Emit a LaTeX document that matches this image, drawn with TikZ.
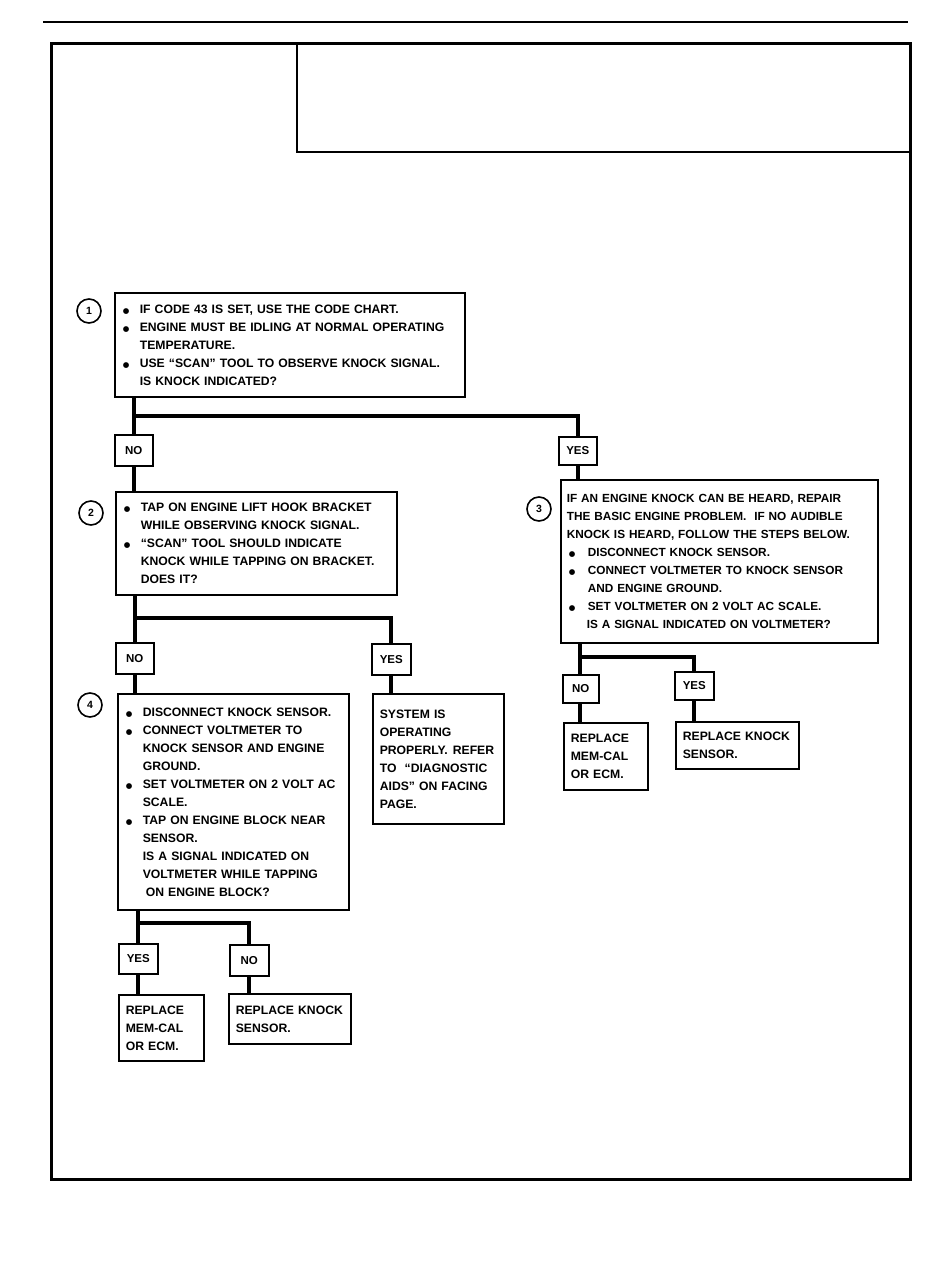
\documentclass[tikz,border=0pt]{standalone}
\usepackage{fontspec}
\setmainfont{Liberation Sans}
\newfontfamily\symf{DejaVu Sans}
\newcommand\dotc{{\symf\fontsize{7.5}{7.5}\selectfont ●}}
\newcommand\bul{\makebox[19pt][l]{\hspace*{2pt}\dotc}}
\newcommand\bulw{\makebox[21pt][l]{\hspace*{2pt}\dotc}}
\newcommand\ind{\hspace*{19pt}}
\tikzset{
  box/.style={draw, line width=1.6pt, anchor=north west, inner xsep=6pt, inner ysep=0pt,
    font=\fontsize{12.2}{18}\selectfont\bfseries, align=left},
  lbl/.style={draw, line width=1.6pt, anchor=north west, inner sep=0pt,
    font=\fontsize{11.5}{14}\selectfont\bfseries},
  trunk/.style={line width=4pt},
  stepnum/.style={circle, draw, line width=1.6pt, minimum size=24pt, inner sep=0pt,
    font=\fontsize{10.5}{12}\selectfont\bfseries},
}
\begin{document}
\begin{tikzpicture}[x=1pt,y=-1pt]
\useasboundingbox (0,0) rectangle (950,1264);
% page frame
\draw[line width=2.3pt] (43,22) -- (908,22);
\draw[line width=3pt] (51,43) rectangle (910,1179);
\draw[line width=1.5pt] (297,43) -- (297,152) -- (910,152);

% step numbers
\node[stepnum] (c1) at (89,311) {1};
\node[stepnum] (c2) at (91,513) {2};
\node[stepnum] (c3) at (539,509) {3};
\node[stepnum] (c4) at (90,705) {4};

% box 1
\node[box, minimum height=104pt, text width=338pt] (b1) at (114,292)
 {\bul IF CODE 43 IS SET, USE THE CODE CHART.\\
  \bul ENGINE MUST BE IDLING AT NORMAL OPERATING\\
  \ind TEMPERATURE.\\
  \bul USE \textquotedblleft SCAN\textquotedblright\ TOOL TO OBSERVE KNOCK SIGNAL.\\
  \ind IS KNOCK INDICATED?};

\node[lbl, minimum width=38pt, minimum height=31pt] (n1) at (114,434) {NO};
\node[lbl, minimum width=38pt, minimum height=28pt] (y1) at (558,436) {YES};

% box 2
\node[box, minimum height=103pt, text width=269pt] (b2) at (115,491)
 {\bul TAP ON ENGINE LIFT HOOK BRACKET\\
  \ind WHILE OBSERVING KNOCK SIGNAL.\\
  \bul \textquotedblleft SCAN\textquotedblright\ TOOL SHOULD INDICATE\\
  \ind KNOCK WHILE TAPPING ON BRACKET.\\
  \ind DOES IT?};

% box 3
\node[box, font=\fontsize{11.8}{18}\selectfont\bfseries, minimum height=163pt, text width=305pt] (b3) at (560,479)
 {IF AN ENGINE KNOCK CAN BE HEARD, REPAIR\\
  THE BASIC ENGINE PROBLEM.\ \ IF NO AUDIBLE\\
  KNOCK IS HEARD, FOLLOW THE STEPS BELOW.\\
  \bulw DISCONNECT KNOCK SENSOR.\\
  \bulw CONNECT VOLTMETER TO KNOCK SENSOR\\
  \hspace*{21pt}AND ENGINE GROUND.\\
  \bulw SET VOLTMETER ON 2 VOLT AC SCALE.\\
  \hspace*{20pt}IS A SIGNAL INDICATED ON VOLTMETER?};

\node[lbl, minimum width=38pt, minimum height=31pt] (n2) at (115,642) {NO};
\node[lbl, minimum width=39pt, minimum height=31pt] (y2) at (371,643) {YES};

\node[lbl, minimum width=36pt, minimum height=28pt] (n3) at (562,674) {NO};
\node[lbl, minimum width=39pt, minimum height=28pt] (y3) at (674,671) {YES};

% box 4
\node[box, minimum height=216pt, text width=219pt] (b4) at (117,693)
 {\bul DISCONNECT KNOCK SENSOR.\\
  \bul CONNECT VOLTMETER TO\\
  \ind KNOCK SENSOR AND ENGINE\\
  \ind GROUND.\\
  \bul SET VOLTMETER ON 2 VOLT AC\\
  \ind SCALE.\\
  \bul TAP ON ENGINE BLOCK NEAR\\
  \ind SENSOR.\\
  \ind IS A SIGNAL INDICATED ON\\
  \ind VOLTMETER WHILE TAPPING\\
  \hspace*{22pt}ON ENGINE BLOCK?};

% system ok
\node[box, inner xsep=7pt, minimum height=130pt, text width=117pt] (s1) at (372,693)
 {SYSTEM IS\\
  OPERATING\\
  \mbox{PROPERLY.\hspace{5pt}REFER}\\
  \mbox{TO \ \textquotedblleft DIAGNOSTIC}\\
  \mbox{AIDS\textquotedblright\ ON FACING}\\
  PAGE.};

% right results
\node[box, inner xsep=7pt, minimum height=67pt, text width=70pt] (r1) at (563,722)
 {REPLACE\\ MEM-CAL\\ OR ECM.};
\node[box, inner xsep=7pt, minimum height=47pt, text width=109pt] (r2) at (675,721)
 {REPLACE KNOCK\\ SENSOR.};

% bottom left
\node[lbl, minimum width=39pt, minimum height=30pt] (y4) at (118,943) {YES};
\node[lbl, minimum width=39pt, minimum height=31pt] (n4) at (229,944) {NO};

\node[box, inner xsep=7pt, minimum height=66pt, text width=71pt] (r3) at (118,994)
 {REPLACE\\ MEM-CAL\\ OR ECM.};
\node[box, inner xsep=7pt, minimum height=50pt, text width=108pt] (r4) at (228,993)
 {REPLACE KNOCK\\ SENSOR.};

% junctions
\path (n1.north |- 0,416) coordinate (j1);
\path (n2.north |- 0,618) coordinate (j2);
\path (580,657) coordinate (j3);
\path (y4.north |- 0,923) coordinate (j4);

% connectors
\draw[trunk] (n1.north |- b1.south) -- (n1.north);
\draw[trunk] (j1) -| (y1.north);
\draw[trunk] (n1.south) -- (n1.south |- b2.north);
\draw[trunk] (y1.south) -- (y1.south |- b3.north);

\draw[trunk] (n2.north |- b2.south) -- (n2.north);
\draw[trunk] (j2) -| (y2.north);
\draw[trunk] (n2.south) -- (n2.south |- b4.north);
\draw[trunk] (y2.south) -- (y2.south |- s1.north);

\draw[trunk] (j3 |- b3.south) -- (j3) -- (j3 |- n3.north);
\draw[trunk] (j3) -| (y3.north);
\draw[trunk] (n3.south -| j3) -- (j3 |- r1.north);
\draw[trunk] (y3.south) -- (y3.south |- r2.north);

\draw[trunk] (y4.north |- b4.south) -- (y4.north);
\draw[trunk] (j4) -| (n4.north);
\draw[trunk] (y4.south) -- (y4.south |- r3.north);
\draw[trunk] (n4.south) -- (n4.south |- r4.north);
\end{tikzpicture}
\end{document}
